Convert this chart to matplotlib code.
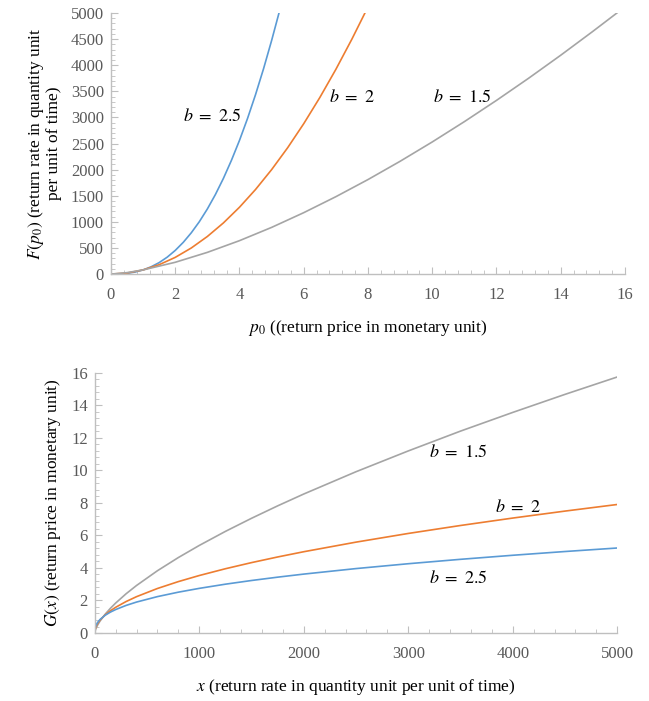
import matplotlib
matplotlib.use("Agg")
import matplotlib.pyplot as plt
from matplotlib.ticker import MultipleLocator, AutoMinorLocator

plt.rcParams['font.family'] = ['Liberation Serif', 'DejaVu Serif']
plt.rcParams['mathtext.fontset'] = 'stix'

# top chart: F(p0)
p_b25 = [0, 0.25, 0.5, 0.75, 1, 1.25, 1.5, 1.75, 2, 2.25, 2.5, 2.75, 3, 3.25, 3.5,
         3.75, 4, 4.25, 4.5, 4.75, 5, 5.23]
F_b25 = [0, 2.5, 14, 39, 80, 140, 220, 324, 453, 608, 791, 1003, 1247, 1523, 1833,
         2179, 2560, 2979, 3437, 3934, 4472, 5000]
p_b2 = [0, 0.5, 1, 1.5, 2, 2.5, 3, 3.5, 4, 4.5, 5, 5.5, 6, 6.5, 7, 7.5, 7.9]
F_b2 = [0, 20, 80, 180, 320, 500, 720, 980, 1280, 1620, 2000, 2420, 2880, 3380, 3920, 4500, 4993]
p_b15 = [0, 0.5, 1, 2, 3, 4, 5, 6, 7, 8, 9, 10, 11, 12, 13, 14, 15, 15.75]
F_b15 = [0, 28, 80, 226, 416, 640, 894, 1176, 1482, 1810, 2160, 2530, 2919, 3326, 3750, 4191, 4648, 5000]

# bottom chart: G(x)
x_vals = [0, 1, 2, 5, 10, 25, 50, 100, 150, 200, 300, 400, 600, 800, 1000, 1250, 1500,
          1750, 2000, 2500, 3000, 3500, 4000, 4500, 5000]
G_b15 = [0, 0.054, 0.086, 0.157, 0.25, 0.46, 0.731, 1.16, 1.521, 1.842, 2.414, 2.924, 3.832,
         4.642, 5.386, 6.25, 7.056, 7.821, 8.55, 9.921, 11.2, 12.42, 13.57, 14.68, 15.75]
G_b2 = [0, 0.112, 0.158, 0.25, 0.354, 0.559, 0.791, 1.118, 1.369, 1.581, 1.936, 2.236, 2.739,
        3.162, 3.536, 3.953, 4.33, 4.677, 5.0, 5.59, 6.124, 6.614, 7.071, 7.5, 7.906]
G_b25 = [0, 0.173, 0.229, 0.33, 0.435, 0.628, 0.829, 1.093, 1.286, 1.443, 1.697, 1.904, 2.239,
         2.512, 2.746, 3.003, 3.23, 3.435, 3.624, 3.963, 4.262, 4.533, 4.782, 5.013, 5.229]

blue = "#5b9bd5"
orange = "#ed7d31"
gray = "#a5a5a5"
axis_col = "#bfbfbf"
tick_col = "#595959"

fig = plt.figure(figsize=(6.49, 7.01), dpi=100)
ax1 = fig.add_axes([0.171, 0.609, 0.792, 0.3725])
ax2 = fig.add_axes([0.146, 0.097, 0.805, 0.371])


def style(ax):
    for s in ["top", "right"]:
        ax.spines[s].set_visible(False)
    for s in ["left", "bottom"]:
        ax.spines[s].set_color(axis_col)
        ax.spines[s].set_linewidth(1.0)
    ax.tick_params(which="both", direction="in", color=axis_col, labelcolor=tick_col,
                   labelsize=12)
    ax.tick_params(which="major", length=5)
    ax.tick_params(which="minor", length=3)
    ax.tick_params(axis="x", pad=9)
    ax.tick_params(axis="y", pad=5)


ax1.plot(p_b25, F_b25, color=blue, lw=1.2)
ax1.plot(p_b2, F_b2, color=orange, lw=1.2)
ax1.plot(p_b15, F_b15, color=gray, lw=1.2)
ax1.set_xlim(0, 16)
ax1.set_ylim(0, 5000)
ax1.xaxis.set_major_locator(MultipleLocator(2))
ax1.xaxis.set_minor_locator(AutoMinorLocator(5))
ax1.yaxis.set_major_locator(MultipleLocator(500))
ax1.yaxis.set_minor_locator(AutoMinorLocator(5))
style(ax1)
ax1.set_xlabel(r"$p_0$ ((return price in monetary unit)", fontsize=12.5, labelpad=11)
ax1.set_ylabel("$F(p_0)$ (return rate in quantity unit\nper unit of time)", fontsize=12.5,
               labelpad=6, linespacing=1.0)
ax1.text(3.14, 3027, "$b\\ =\\ 2.5$", fontsize=13, ha="center", va="center")
ax1.text(7.5, 3372, "$b\\ =\\ 2$", fontsize=13, ha="center", va="center")
ax1.text(10.93, 3372, "$b\\ =\\ 1.5$", fontsize=13, ha="center", va="center")

ax2.plot(x_vals, G_b15, color=gray, lw=1.2)
ax2.plot(x_vals, G_b2, color=orange, lw=1.2)
ax2.plot(x_vals, G_b25, color=blue, lw=1.2)
ax2.set_xlim(0, 5000)
ax2.set_ylim(0, 16)
ax2.xaxis.set_major_locator(MultipleLocator(1000))
ax2.xaxis.set_minor_locator(AutoMinorLocator(5))
ax2.yaxis.set_major_locator(MultipleLocator(2))
ax2.yaxis.set_minor_locator(AutoMinorLocator(5))
style(ax2)
ax2.set_xlabel("$x$ (return rate in quantity unit per unit of time)", fontsize=12.5, labelpad=11)
ax2.set_ylabel("$G(x)$ (return price in monetary unit)", fontsize=12.5, labelpad=6)
ax2.text(3477, 11.08, "$b\\ =\\ 1.5$", fontsize=13, ha="center", va="center")
ax2.text(4052, 7.75, "$b\\ =\\ 2$", fontsize=13, ha="center", va="center")
ax2.text(3477, 3.38, "$b\\ =\\ 2.5$", fontsize=13, ha="center", va="center")

fig.savefig("out.png", dpi=100)
